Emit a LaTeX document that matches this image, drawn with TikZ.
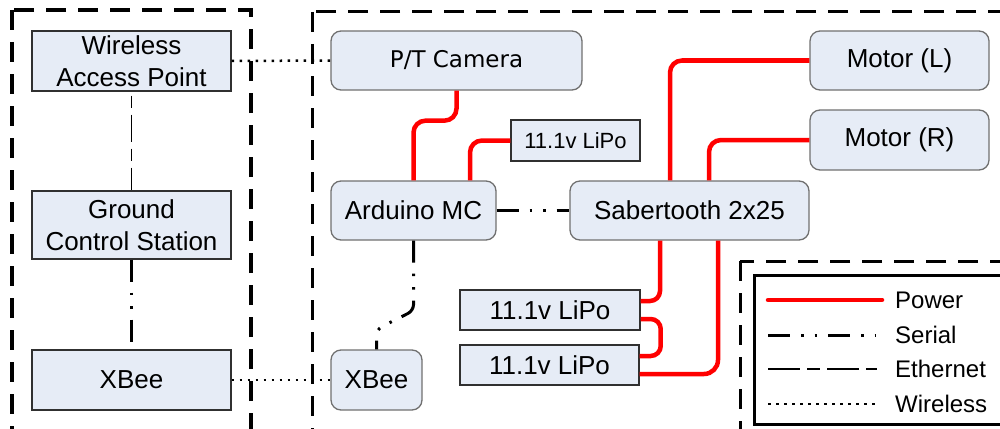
\documentclass[tikz,border=0pt]{standalone}
\usepackage{fontspec}
\setmainfont{Liberation Sans}
\newfontfamily\dvs{DejaVu Sans}
\definecolor{nodefill}{HTML}{E6ECF6}
\definecolor{rborder}{HTML}{707070}
\definecolor{sborder}{HTML}{303030}
\definecolor{pwr}{HTML}{FF0000}
\tikzset{
  sqbox/.style={draw=sborder, line width=1.4pt, fill=nodefill, inner sep=0pt, align=center, font=\fontsize{26}{32}\selectfont},
  rbox/.style={draw=rborder, line width=1.3pt, fill=nodefill, rounded corners=10pt, inner sep=0pt, align=center, font=\fontsize{26}{32}\selectfont},
  power/.style={draw=pwr, line width=4.5pt, rounded corners=12pt},
  serial/.style={line width=3pt, dash pattern=on 22pt off 11pt on 2.5pt off 11pt on 2.5pt off 11pt},
  ethernet/.style={line width=1.7pt, dash pattern=on 27pt off 7pt on 12pt off 7pt},
  wireless/.style={line width=2.5pt, dash pattern=on 2.5pt off 5.5pt},
  zonethick/.style={line width=4pt, dash pattern=on 20pt off 12pt},
  zonethin/.style={line width=3pt, dash pattern=on 20pt off 12pt},
  legtext/.style={anchor=west, inner sep=0pt, font=\fontsize{24}{28}\selectfont},
}
\begin{document}
\begin{tikzpicture}[x=1pt, y=-1pt]
\useasboundingbox (0,0) rectangle (1000,428);
\clip (0,0) rectangle (1000,428);
% zones
\draw[zonethick] (12,10) rectangle (251,470);
\draw[zonethin] (312,12) rectangle (1050,470);
\draw[zonethin] (740,261) rectangle (1050,470);
\draw[line width=3pt] (754,275) rectangle (1050,424);

% nodes
\node[sqbox, minimum width=199pt, minimum height=60pt] (wap) at (131.5,61) {Wireless\\Access Point};
\node[sqbox, minimum width=199pt, minimum height=68pt] (gcs) at (131.5,225) {Ground\\Control Station};
\node[sqbox, minimum width=199pt, minimum height=60pt] (xbl) at (131.5,380) {XBee};
\node[rbox, minimum width=251pt, minimum height=59pt, font=\dvs\fontsize{23}{27}\selectfont] (cam) at (456.5,60.5) {P/T Camera};
\node[sqbox, minimum width=129pt, minimum height=41pt, font=\fontsize{22}{26}\selectfont] (lipos) at (575.5,140.5) {11.1v LiPo};
\node[rbox, minimum width=165pt, minimum height=59pt] (ard) at (413.5,210.5) {Arduino MC};
\node[rbox, minimum width=239pt, minimum height=59pt] (sab) at (689.5,210.5) {Sabertooth 2x25};
\node[rbox, minimum width=179pt, minimum height=59pt] (motl) at (899.5,60.5) {Motor (L)};
\node[rbox, minimum width=179pt, minimum height=60pt] (motr) at (899.5,140) {Motor (R)};
\node[sqbox, minimum width=180pt, minimum height=40pt] (lipo1) at (550,310) {11.1v LiPo};
\node[sqbox, minimum width=179pt, minimum height=40pt] (lipo2) at (549.5,365) {11.1v LiPo};
\node[rbox, minimum width=91pt, minimum height=60pt] (xbr) at (376.5,380) {XBee};

% connectors
\draw[wireless] (wap.east) -- (cam.west);
\draw[wireless] (xbl.east) -- (xbr.west);
\draw[ethernet, dash phase=30pt] (wap.south) -- (gcs.north);
\draw[serial] (gcs.south) -- (xbl.north);
\draw[serial] (ard.east) -- (sab.west);
\draw[serial, rounded corners=6pt] (ard.south) -- ++(0,70) -- ([yshift=20pt]xbr.north) -- (xbr.north);

\draw[power] (cam.south) -- ++(0,30) -| (ard.north);
\draw[power] (lipos.west) -| ([xshift=56.5pt]ard.north);
\draw[power] (motl.west) -| ([xshift=-19.5pt]sab.north);
\draw[power] (motr.west) -| ([xshift=19.5pt]sab.north);
\draw[power, rounded corners=10pt] ([xshift=-29.5pt]sab.south) |- ([yshift=9pt]lipo1.east);
\draw[power, rounded corners=10pt] ([yshift=-9pt]lipo1.east) -- ++(20,0) |- ([yshift=9pt]lipo2.east);
\draw[power, rounded corners=14pt] ([xshift=28.5pt]sab.south) |- ([yshift=-9pt]lipo2.east);

% legend
\coordinate (pa) at (768,300); \coordinate (pb) at (882,300);
\coordinate (sa) at (768,335); \coordinate (sb) at (876,335);
\coordinate (ea) at (768,369); \coordinate (eb) at (877,369);
\coordinate (wa) at (768,404); \coordinate (wb) at (877,404);
\draw[draw=pwr, line width=4.5pt, line cap=round] (pa) -- (pb);
\draw[serial] (sa) -- (sb);
\draw[line width=1.7pt, dash pattern=on 32pt off 7pt on 13pt off 7pt] (ea) -- (eb);
\draw[wireless] (wa) -- (wb);
\node[legtext] (lp) at (895,300) {Power};
\node[legtext] (ls) at (895,335) {Serial};
\node[legtext] (le) at (895,369) {Ethernet};
\node[legtext] (lw) at (895,404) {Wireless};
\end{tikzpicture}
\end{document}
